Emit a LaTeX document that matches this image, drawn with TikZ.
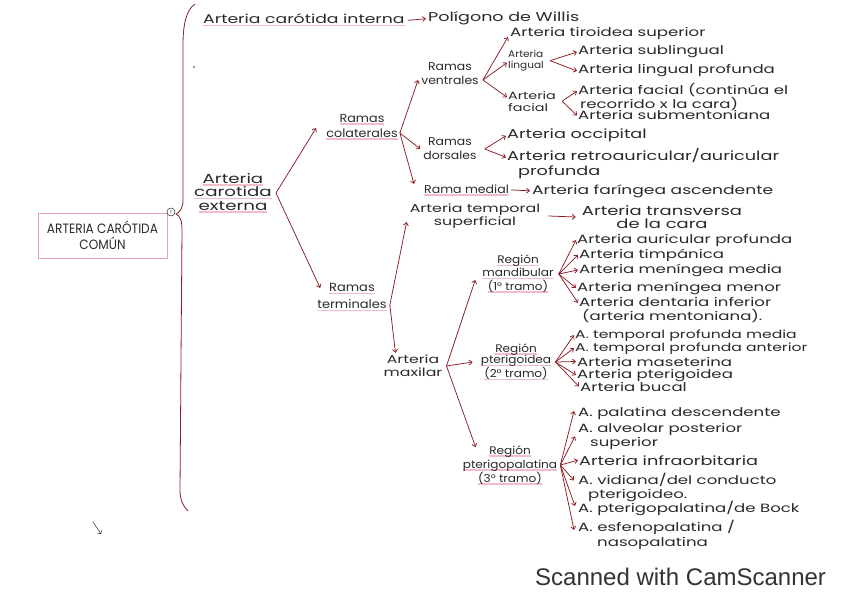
\documentclass[tikz,border=0pt]{standalone}
\usepackage{fontspec}
\setmainfont[FakeStretch=1.38]{Poppins}
\newfontfamily\boxfont[FakeStretch=0.9]{Poppins}
\newfontfamily\nrw[FakeStretch=1.1]{Poppins}
\newfontfamily\camfont{Liberation Sans}
\usetikzlibrary{arrows.meta}
\definecolor{arrowred}{HTML}{8C1E23}
\definecolor{hlpink}{HTML}{F4BCC6}
\definecolor{boxpink}{HTML}{E9A3AE}
\definecolor{ink}{HTML}{2A2A2A}
\newsavebox\hlbox
\newcommand\hlu[1]{\sbox\hlbox{#1}\rlap{\color{hlpink}\rule[-2.5pt]{\wd\hlbox}{1.3pt}}\usebox\hlbox}
\begin{document}
\begin{tikzpicture}[x=1pt,y=-1pt,
  every node/.style={inner sep=0pt, text=ink, font=\fontsize{12}{13}\selectfont},
  t/.style={anchor=base west},
  lbl/.style={anchor=north west, align=left},
  clab/.style={align=center},
  arr/.style={draw=arrowred, line width=0.75pt, -{Straight Barb[length=3pt,width=5pt]}},
  brace/.style={draw=arrowred, line width=0.8pt}
]
\useasboundingbox[fill=white] (0,0) rectangle (848,599);

% brace and root box
\draw[brace] (195,4) .. controls (186,10) and (183,25) .. (183,45) -- (183,200)
  .. controls (183,208) and (180,212) .. (176,214)
  .. controls (180,216) and (182,220) .. (182,230) -- (180,490)
  .. controls (180,500) and (183,506) .. (188,511);
\node[draw=boxpink, line width=0.6pt, minimum width=129pt, minimum height=45pt,
      font=\boxfont\fontsize{13.5}{15.5}\selectfont, align=center] (acc) at (102.5,235.5) {ARTERIA CARÓTIDA\\COMÚN};
\node[draw=ink, circle, line width=0.5pt, minimum size=8pt, inner sep=0pt, font=\fontsize{4}{4}\selectfont] (num) at (171,212) {1};
\fill[ink] (194,67) circle (0.8pt);

% carotida interna
\node[t, font=\fontsize{12.5}{13}\selectfont] (aci) at (203,24) {\hlu{Arteria carótida interna}};
\node[t, font=\fontsize{12.7}{13}\selectfont] (pw) at (428,22) {Polígono de Willis};
\draw[arr] ([xshift=3pt]aci.east) -- ([xshift=-2pt]pw.west);

% carotida externa
\node[clab, font=\fontsize{13.2}{13.5}\selectfont] (ace) at (233,193) {\hlu{Arteria}\\\hlu{carotida}\\\hlu{externa}};
\coordinate (c0) at ([xshift=4pt]ace.east);
\node[clab, font=\nrw\fontsize{11.6}{15}\selectfont] (colat) at (362,127) {\hlu{Ramas}\\\hlu{colaterales}};
\node[clab, font=\nrw\fontsize{11.8}{17}\selectfont] (term) at (352,297) {\hlu{Ramas}\\\hlu{terminales}};
\draw[arr] (c0) -- ([xshift=-10pt,yshift=-1pt]colat.west);
\draw[arr] (c0) -- ([xshift=3pt,yshift=9pt]term.west);

% ramas colaterales
\node[clab, font=\nrw\fontsize{11.3}{14}\selectfont] (vent) at (450,74) {Ramas\\ventrales};
\node[clab, font=\nrw\fontsize{11.3}{14}\selectfont] (dors) at (450,149) {Ramas\\dorsales};
\node[t, font=\nrw\fontsize{11.4}{13}\selectfont] (medial) at (424,193) {\hlu{Rama medial}};
\node[t, font=\fontsize{12.4}{13}\selectfont] (far) at (532,194) {Arteria faríngea ascendente};
\coordinate (cb) at ([xshift=2pt,yshift=-6pt]colat.east);
\draw[arr] (cb) -- ([xshift=-3pt,yshift=-6pt]vent.west);
\draw[arr] (cb) -- ([xshift=-3pt]dors.west);
\draw[arr] (cb) -- ([xshift=-10pt,yshift=6pt]medial.west);
\draw[arr] ([xshift=2pt]medial.east) -- ([xshift=-2pt]far.west);

% ramas ventrales
\node[t] (tiro) at (510,37) {Arteria tiroidea superior};
\node[lbl, font=\nrw\fontsize{9.6}{11}\selectfont] (ling) at (508,50) {Arteria\\lingual};
\node[lbl, font=\fontsize{10.4}{12}\selectfont] (fac) at (508,91) {Arteria\\facial};
\coordinate (vb) at ([xshift=4pt,yshift=-6pt]vent.east);
\draw[arr] (vb) -- ([xshift=-2pt,yshift=-3pt]tiro.west);
\draw[arr] (vb) -- ([xshift=-1pt,yshift=-2pt]ling.west);
\draw[arr] (vb) -- ([xshift=-1pt,yshift=4pt]fac.west);

\node[t] (sub) at (578,55) {Arteria sublingual};
\node[t] (lprof) at (578,74) {Arteria lingual profunda};
\coordinate (lb) at ([xshift=6pt]ling.east);
\draw[arr] (lb) -- ([xshift=-1pt]sub.west);
\draw[arr] (lb) -- ([xshift=-1pt]lprof.west);

\node[lbl, font=\fontsize{12}{12}\selectfont] (facc) at (578,83) {Arteria facial (continúa el\\\hspace*{2pt}recorrido x la cara)};
\node[t] (subm) at (578,120) {Arteria submentoniana};
\coordinate (fb) at ([xshift=6pt]fac.east);
\draw[arr] (fb) -- ([xshift=-1pt,yshift=6pt]facc.west);
\draw[arr] (fb) -- ([xshift=-1pt]subm.west);

% ramas dorsales
\node[t, font=\fontsize{12.8}{13}\selectfont] (occ) at (507,139) {Arteria occipital};
\node[lbl, font=\fontsize{12.8}{15}\selectfont] (retro) at (507,148) {Arteria retroauricular/auricular\\\hspace*{11pt}profunda};
\coordinate (db) at ([xshift=8pt]dors.east);
\draw[arr] (db) -- ([xshift=-1pt]occ.west);
\draw[arr] (db) -- ([xshift=-1pt,yshift=6pt]retro.west);

% ramas terminales
\node[clab, font=\fontsize{11.5}{13}\selectfont] (tsup) at (475,216) {Arteria temporal\\superficial};
\node[clab, font=\fontsize{13}{13}\selectfont] (ttrans) at (662,217) {Arteria transversa\\de la cara};
\draw[arr] ([xshift=8pt]tsup.east) -- ([xshift=-6pt]ttrans.west);
\node[clab, font=\fontsize{11.4}{13}\selectfont] (maxi) at (413,366) {Arteria\\maxilar};
\coordinate (tb) at ([xshift=3pt,yshift=-8pt]term.east);
\draw[arr] (tb) -- ([xshift=-3pt,yshift=-6pt]tsup.west);
\draw[arr] (tb) -- ([xshift=12pt,yshift=2pt]maxi.north west);

% arteria maxilar
\node[clab, font=\nrw\fontsize{11}{12.5}\selectfont] (mand) at (518,274) {\hlu{Región}\\\hlu{mandibular}\\\hlu{(1° tramo)}};
\node[clab, font=\nrw\fontsize{11}{11.5}\selectfont] (pter) at (516,362) {\hlu{Región}\\\hlu{pterigoidea}\\\hlu{(2° tramo)}};
\node[clab, font=\nrw\fontsize{11}{14}\selectfont] (ppal) at (510,465) {\hlu{Región}\\\hlu{pterigopalatina}\\\hlu{(3° tramo)}};
\coordinate (mb) at ([xshift=4pt]maxi.east);
\draw[arr] (mb) -- ([xshift=-7pt,yshift=-6pt]mand.west);
\draw[arr] (mb) -- ([xshift=-8pt]pter.west);
\draw[arr] (mb) -- ([xshift=13pt,yshift=-2pt]ppal.north west);

% region mandibular
\node[t] (m1) at (577,243) {Arteria auricular profunda};
\node[t] (m2) at (579,258) {Arteria timpánica};
\node[t] (m3) at (579,273) {Arteria meníngea media};
\node[t] (m4) at (577,291) {Arteria meníngea menor};
\node[lbl, font=\fontsize{12}{14}\selectfont] (m5) at (579,297) {Arteria dentaria inferior\\\hspace*{3pt}(arteria mentoniana).};
\coordinate (mdb) at ([xshift=5pt]mand.east);
\foreach \n in {m1,m2,m3,m4} \draw[arr] (mdb) -- ([xshift=-1pt]\n.west);
\draw[arr] (mdb) -- ([xshift=-1pt,yshift=7pt]m5.west);

% region pterigoidea
\node[t, font=\fontsize{11.3}{13}\selectfont] (p1) at (575,338) {A. temporal profunda media};
\node[t, font=\fontsize{11.3}{13}\selectfont] (p2) at (575,351) {A. temporal profunda anterior};
\node[t] (p3) at (577,366) {Arteria maseterina};
\node[t] (p4) at (577,378) {Arteria pterigoidea};
\node[t] (p5) at (580,391) {Arteria bucal};
\coordinate (pb) at ([xshift=4pt]pter.east);
\foreach \n in {p1,p2,p3,p4,p5} \draw[arr] (pb) -- ([xshift=-1pt]\n.west);

% region pterigopalatina
\node[t] (q1) at (578,416) {A. palatina descendente};
\node[lbl, font=\fontsize{12}{14}\selectfont] (q2) at (578,423) {A. alveolar posterior\\\hspace*{12pt}superior};
\node[t, font=\fontsize{12.8}{13}\selectfont] (q3) at (579,465) {Arteria infraorbitaria};
\node[lbl, font=\fontsize{12}{14}\selectfont] (q4) at (578,473) {A. vidiana/del conducto\\\hspace*{10pt}pterigoideo.};
\node[t] (q5) at (578,512) {A. pterigopalatina/de Bock};
\node[lbl, font=\fontsize{12}{15}\selectfont] (q6) at (578,520) {A. esfenopalatina /\\\hspace*{19pt}nasopalatina};
\coordinate (qb) at ([xshift=3pt]ppal.east);
\draw[arr] (qb) -- ([xshift=-4pt,yshift=2pt]q1.west);
\draw[arr] (qb) -- ([xshift=-3pt]q2.west);
\draw[arr] (qb) -- ([xshift=-1pt]q3.west);
\draw[arr] (qb) -- ([xshift=-4pt,yshift=7pt]q4.west);
\draw[arr] (qb) -- ([xshift=-3pt,yshift=2pt]q5.west);
\draw[arr] (qb) -- ([xshift=-4pt,yshift=5pt]q6.west);

% scanner mark and stray arrow
\node[t, font=\camfont\fontsize{24}{24}\selectfont, text=black!80] (cam) at (535,585) {Scanned with CamScanner};
\coordinate (s1) at (93,522);
\coordinate (s2) at (101,534);
\draw[ink, line width=0.5pt, -{Straight Barb[length=2.5pt]}] (s1) -- (s2);
\end{tikzpicture}
\end{document}
